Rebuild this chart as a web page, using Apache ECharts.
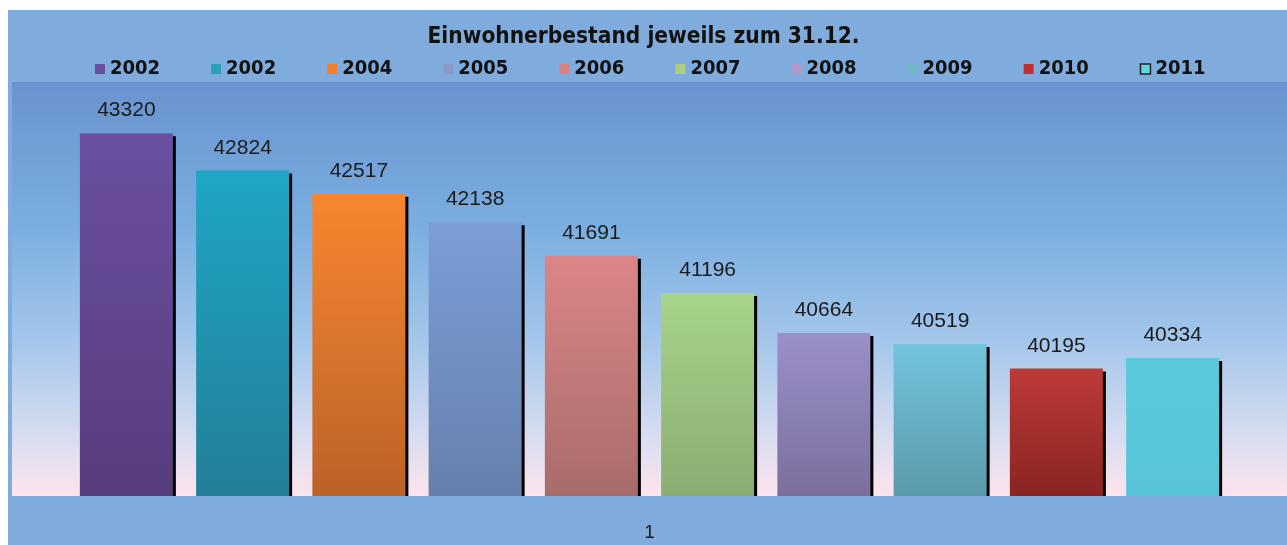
<!DOCTYPE html>
<html>
<head>
<meta charset="utf-8">
<script src="https://cdn.jsdelivr.net/npm/echarts@6/dist/echarts.min.js"></script>
<style>
html,body{margin:0;padding:0;background:#fff;}
#chart{width:1287px;height:545px;}
</style>
</head>
<body>
<div id="chart"></div>
<script>
// ---- data ----
var title = 'Einwohnerbestand jeweils zum 31.12.';
var categories = ['1'];
var years = ['2002', '2002', '2004', '2005', '2006', '2007', '2008', '2009', '2010', '2011'];
var values = [43320, 42824, 42517, 42138, 41691, 41196, 40664, 40519, 40195, 40334];

// ---- styles ----
var barTop = ['#6b4fa2', '#1fa6c6', '#f7862f', '#7a9ed6', '#dc8587', '#a8d48a', '#9b8fc8', '#72c4dc', '#bd3a36', '#59c9db'];
var barBot = ['#573d7c', '#237f98', '#bb6228', '#6680ad', '#a86b6c', '#8aac72', '#7a6f9c', '#5a9aab', '#8a2422', '#57c5d7'];
var legendCol = ['#6a4fa0', '#2aa0b6', '#f08030', '#8a9cc6', '#d98080', '#b0cc80', '#b098c8', '#70b8c8', '#c03030', '#60d4e2'];

var chart = echarts.init(document.getElementById('chart'));

var series = values.map(function (v, i) {
  return {
    name: 'S' + i,
    type: 'bar',
    barWidth: 93,
    barGap: '25%',
    data: [v],
    itemStyle: {
      color: {
        type: 'linear', x: 0, y: 0, x2: 0, y2: 1,
        colorStops: [{offset: 0, color: barTop[i]}, {offset: 1, color: barBot[i]}]
      },
      shadowColor: '#000',
      shadowBlur: 0,
      shadowOffsetX: 3,
      shadowOffsetY: 3
    },
    label: {
      show: true,
      position: 'top',
      distance: 12,
      fontFamily: 'Liberation Sans',
      fontSize: 21,
      color: '#1a1a1a'
    }
  };
});

var legendData = years.map(function (y, i) {
  var item = {name: 'S' + i, itemStyle: {color: legendCol[i]}};
  if (i === 9) {
    item.itemStyle = {color: legendCol[i], borderColor: '#222', borderWidth: 1.5};
  }
  return item;
});

chart.setOption({
  backgroundColor: '#ffffff',
  animation: false,
  graphic: [
    {type: 'rect', z: -10, shape: {x: 8, y: 10, width: 1279, height: 535}, style: {fill: '#80acdd'}},
    {type: 'rect', z: -9, shape: {x: 12, y: 82, width: 1275, height: 414},
      style: {fill: new echarts.graphic.LinearGradient(0, 0, 0, 1, [
        {offset: 0, color: '#6993cf'},
        {offset: 0.35, color: '#7aaee0'},
        {offset: 0.62, color: '#a3c6ea'},
        {offset: 0.85, color: '#d6dcf0'},
        {offset: 1, color: '#fde4ec'}
      ])}},
    {type: 'rect', z: 10, shape: {x: 8, y: 496, width: 1279, height: 49}, style: {fill: '#80acdd'}}
  ],
  title: {
    text: title,
    left: 'center',
    top: 21,
    textStyle: {fontFamily: 'DejaVu Sans Condensed', fontSize: 22.5, fontWeight: 'bold', color: '#111'}
  },
  legend: {
    data: legendData,
    left: 90,
    top: 54,
    itemWidth: 10,
    itemHeight: 10,
    itemGap: 51,
    icon: 'rect',
    formatter: function (name) { return years[+name.slice(1)]; },
    textStyle: {fontFamily: 'DejaVu Sans Condensed', fontSize: 20, fontWeight: 'bold', color: '#111'}
  },
  grid: {left: 12, right: 0, top: 82, bottom: 49},
  xAxis: {
    type: 'category',
    data: categories,
    z: 20,
    axisLine: {show: false},
    axisTick: {show: false},
    axisLabel: {margin: 27, fontFamily: 'Liberation Sans', fontSize: 19, color: '#1a1a1a'}
  },
  yAxis: {
    type: 'value',
    min: 38500,
    max: 44000,
    show: false,
    splitLine: {show: false}
  },
  series: series
});
</script>
</body>
</html>
